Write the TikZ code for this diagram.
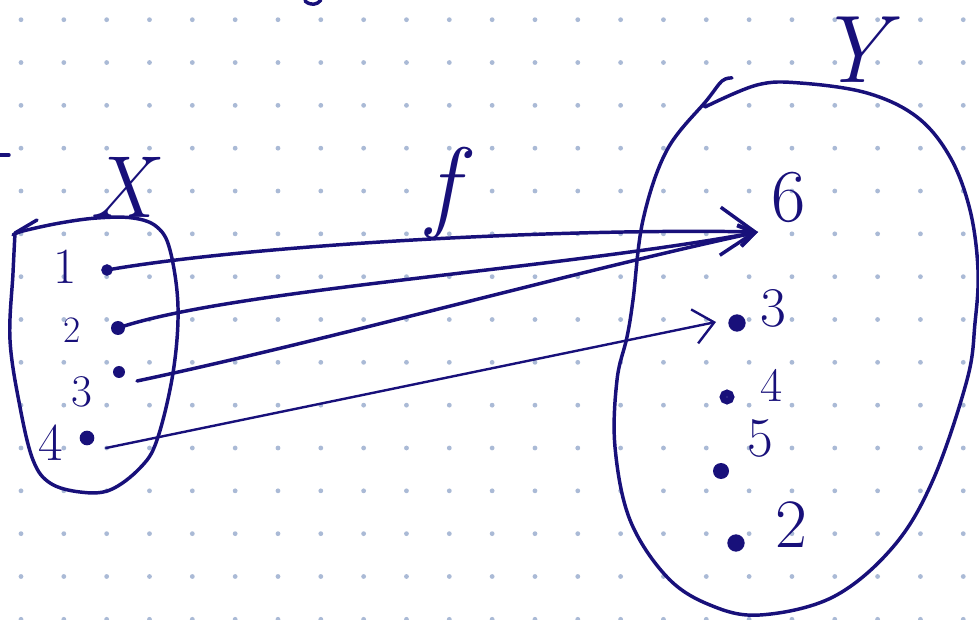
\documentclass[tikz,border=0pt]{standalone}
\usetikzlibrary{arrows.meta}
\definecolor{ink}{RGB}{24,16,122}
\definecolor{griddot}{RGB}{170,186,214}
\tikzset{
  pen/.style={draw=ink, line width=2.6pt, line cap=round, line join=round},
  thinpen/.style={draw=ink, line width=1.8pt, line cap=round, line join=round},
  dotL/.style={circle, fill=ink, inner sep=0pt, minimum size=10.5pt},
  dotR/.style={circle, fill=ink, inner sep=0pt, minimum size=13pt},
  ringdot/.style={circle, fill=white, draw=ink, line width=5pt, inner sep=0pt, minimum size=6pt},
  lbl/.style={text=ink, inner sep=0pt, anchor=center},
}
\newcommand{\fs}[1]{\fontsize{#1}{#1}\selectfont}
\begin{document}
\begin{tikzpicture}[x=0.75pt, y=-0.75pt]
\useasboundingbox (0,0) rectangle (979,620);
\fill[white] (0,0) rectangle (979,620);
% dot grid
\foreach \i in {0,...,22}
  \foreach \j in {0,...,14}
    \fill[griddot] ({21+42.83*\i},{19.7+42.83*\j}) circle (1.8pt);

% cut-off marks at the edges
\draw[pen] (305,1) .. controls (311,6) and (317,5) .. (321,0);
\draw[pen] (0,155) -- (9,155);

% set X
\draw[pen] plot[smooth, tension=0.6] coordinates {(15,233) (13,273) (10,340) (20,407) (33,460) (50,483) (80,492) (110,490) (140,468) (157,440) (173,373) (178,307) (170,250) (157,227) (133,218) (97,218) (60,223) (23,231) (13,235)};
\draw[pen] (15,233) -- (37,220);
\node[lbl] (X) at (121,187) {\fs{66}\itshape X};

% set Y
\draw[pen] plot[smooth, tension=0.6] coordinates {(705,107) (757,85) (800,83) (867,93) (917,117) (950,157) (970,210) (978,270) (975,323) (967,380) (933,480) (893,547) (833,597) (760,615) (710,605) (667,577) (630,520) (615,447) (617,380) (627,337) (633,300) (643,220) (667,150) (707,100) (722,81) (732,78)};
\node[lbl] (Y) at (852,50) {\fs{72}\itshape Y};

% label f
\node[lbl] (f) at (443,193) {\fs{76}\itshape f};

% elements of X
\node[ringdot, minimum size=4pt, line width=4.4pt] (d1) at (107,270) {};
\node[dotL] (d2) at (118,328) {};
\node[dotL, minimum size=9pt] (d3) at (119,372) {};
\node[dotL, minimum size=11pt] (d4) at (87,438) {};
\node[lbl] (l1) at (65,267) {\fs{38}1};
\node[lbl] (l2) at (72,330) {\fs{28}2};
\node[lbl] (l3) at (82,392) {\fs{34}3};
\node[lbl] (l4) at (51,443) {\fs{40}4};

% elements of Y
\coordinate (t6) at (758,232);
\node[dotR] (e3) at (737,323) {};
\node[ringdot] (e4) at (727,397) {};
\node[dotR, minimum size=12pt] (e5) at (721,471) {};
\node[dotR] (e2) at (736,543) {};
\node[lbl] (m6) at (789,197) {\fs{56}6};
\node[lbl] (m3) at (773,308) {\fs{42}3};
\node[lbl] (m4) at (772,385) {\fs{36}4};
\node[lbl] (m5) at (760,438) {\fs{42}5};
\node[lbl] (m2) at (791,525) {\fs{52}2};

% the map f
\coordinate (s3) at (137,381);
\coordinate (s4) at (106,448);
\coordinate (t3) at (716,322);
\draw[pen, -{Straight Barb[length=26pt,width=36pt]}] (d1.center) .. controls (250,245) and (560,228) .. (t6);
\draw[pen, -{Straight Barb[length=12pt,width=16pt]}] (d2.center) .. controls (230,290) and (550,270) .. (t6);
\draw[pen, -{Straight Barb[length=12pt,width=16pt]}] (s3) .. controls (330,340) and (560,275) .. (t6);
\draw[thinpen, -{Straight Barb[length=15pt,width=26pt]}] (s4) -- (t3);
\end{tikzpicture}
\end{document}
